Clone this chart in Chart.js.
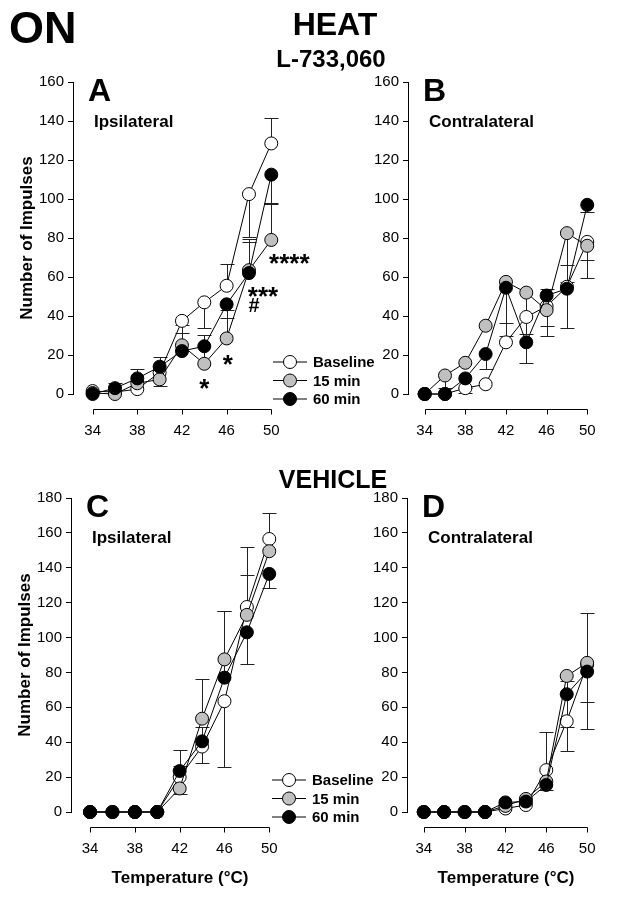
<!DOCTYPE html>
<html>
<head>
<meta charset="utf-8">
<title>ON – HEAT – L-733,060</title>
<script src="https://cdn.jsdelivr.net/npm/chart.js@4.4.1/dist/chart.umd.min.js"></script>
<style>
  body { margin: 0; background: #fff; }
  #page { position: relative; width: 624px; height: 897px; overflow: hidden; font-family: "Liberation Sans", Arial, sans-serif; }
  #page canvas { position: absolute; left: 0; top: 0; }
  .head { position: absolute; font-weight: bold; line-height: 1; white-space: nowrap; color: #000; }
  .center { transform: translateX(-50%); }
</style>
</head>
<body>
<div id="page">
  <canvas id="chartA" width="624" height="897"></canvas>
  <canvas id="chartB" width="624" height="897"></canvas>
  <canvas id="chartC" width="624" height="897"></canvas>
  <canvas id="chartD" width="624" height="897"></canvas>
  <div class="head" style="left:9px;top:5px;font-size:45px">ON</div>
  <div class="head center" style="left:335px;top:8px;font-size:32px">HEAT</div>
  <div class="head center" style="left:331px;top:47px;font-size:24px">L-733,060</div>
  <div class="head center" style="left:333px;top:467px;font-size:25px">VEHICLE</div>
</div>

<script>
const FONT = "'Liberation Sans', Arial, sans-serif";

// temperatures (°C) and tick labels
const temps = [34, 36, 38, 40, 42, 44, 46, 48, 50];
const tempTicks = [34, 38, 42, 46, 50];
const seriesNames = ["Baseline", "15 min", "60 min"];
const seriesFill = ["#ffffff", "#c0c0c0", "#000000"];

// A - L-733,060, ipsilateral
const aBase = [1.5, 1, 2.5, 11, 37.5, 47, 55.5, 102.5, 128.5];
const a15 = [0.5, 0, 5.5, 7.5, 25, 15.5, 28.5, 63.5, 79];
const a60 = [0, 3, 8, 14, 22, 24.5, 46, 62, 112.5];
// error bars: + goes up, - goes down
const aBaseErr = [0, 0, 0, 0, -6, -13, 11, -22, 13];
const a15Err = [0, 0, 0, -3.5, 10.5, 15, 14.5, 16, 19];
const a60Err = [0, 2.5, 5, 5, 0, 0, -7, 16, -15];
const aNotes = [
  { text: "****", x: 49.8, y: 62.6 },
  { text: "***", x: 47.9, y: 45.6 },
  { text: "#", x: 47.95, y: 42 },
  { text: "*", x: 45.65, y: 10.9 },
  { text: "*", x: 43.55, y: -1.4 }
];

// B - L-733,060, contralateral
const bBase = [0, 0, 3, 5, 26.5, 39.5, 45, 55, 78];
const b15 = [0, 9.5, 16, 35, 57.5, 52, 43, 82.5, 76];
const b60 = [0, 0, 8, 20.5, 54.5, 26.5, 50.5, 54, 97];
const bBaseErr = [0, 0, -2.5, 0, 10, 0, -15.5, 11, -9.5];
const b15Err = [0, -6.5, 0, 0, 0, -21, -8, -25, -16.5];
const b60Err = [0, 0, -5, -7.5, -24.5, -10.5, 3.5, -20, -3.5];

// C - vehicle, ipsilateral
const cBase = [0, 0, 0, 0, 20, 37.5, 63.5, 117.5, 156.5];
const c15 = [0, 0, 0, 0, 13.5, 53.5, 87.5, 113, 149.5];
const c60 = [0, 0, 0, 0, 23.5, 40.5, 77, 103, 136.5];
const cBaseErr = [0, 0, 0, 0, 6.5, 11, -37.5, 34.5, 15];
const c15Err = [0, 0, 0, 0, -3, 23, 27.5, 23, 0];
const c60Err = [0, 0, 0, 0, 12, -12.5, 38, -18, -8];

// D - vehicle, contralateral
const dBase = [0, 0, 0, 0, 2, 4, 24, 52, 84.5];
const d15 = [0, 0, 0, 0, 3.5, 7.5, 17.5, 78, 85.5];
const d60 = [0, 0, 0, 0, 5.5, 6, 15.5, 67.5, 80.5];
const dBaseErr = [0, 0, 0, 0, 0, 0, 22, -17, -21.5];
const d15Err = [0, 0, 0, 0, 0, 0, 0, -29, 28.5];
const d60Err = [0, 0, 0, 0, 0, 0, -3, 7.5, -33];

const panels = [
  { id: "chartA", left: 73, right: 305, top: 82, bottom: 394, xMin: 32.24, xMax: 53.02, yMax: 160,
    letter: "A", side: "Ipsilateral", yTitle: true, xTitle: false, legend: { x: 273, y: 362 },
    series: [aBase, a15, a60], errors: [aBaseErr, a15Err, a60Err], notes: aNotes },
  { id: "chartB", left: 408, right: 618, top: 82, bottom: 394, xMin: 32.36, xMax: 51.02, yMax: 160,
    letter: "B", side: "Contralateral", yTitle: false, xTitle: false, legend: null,
    series: [bBase, b15, b60], errors: [bBaseErr, b15Err, b60Err], notes: [] },
  { id: "chartC", left: 71, right: 305, top: 498, bottom: 812, xMin: 32.3, xMax: 53.19, yMax: 180,
    letter: "C", side: "Ipsilateral", yTitle: true, xTitle: true, legend: { x: 272, y: 780 },
    series: [cBase, c15, c60], errors: [cBaseErr, c15Err, c60Err], notes: [] },
  { id: "chartD", left: 407, right: 618, top: 498, bottom: 812, xMin: 32.36, xMax: 51.32, yMax: 180,
    letter: "D", side: "Contralateral", yTitle: false, xTitle: true, legend: null,
    series: [dBase, d15, d60], errors: [dBaseErr, d15Err, d60Err], notes: [] }
];

const Y_W = 60;
const X_H = 60;

// error bars, offset x axis, panel labels, legend and significance marks
const panelDecor = {
  id: "panelDecor",
  beforeDatasetsDraw(chart, args, p) {
    const ctx = chart.ctx;
    const xs = chart.scales.x, ys = chart.scales.y;
    ctx.save();
    ctx.strokeStyle = "#222";
    ctx.lineWidth = 1;
    chart.data.datasets.forEach((ds) => {
      ds.data.forEach((pt, i) => {
        const e = ds.errors[i];
        if (!e) return;
        const x = Math.round(xs.getPixelForValue(pt.x)) + 0.5;
        const y1 = ys.getPixelForValue(pt.y);
        const y2 = Math.round(ys.getPixelForValue(pt.y + e)) + 0.5;
        ctx.beginPath();
        ctx.moveTo(x, y1);
        ctx.lineTo(x, y2);
        ctx.moveTo(x - 7, y2);
        ctx.lineTo(x + 7, y2);
        ctx.stroke();
      });
    });
    ctx.restore();
  },
  afterDraw(chart, args, p) {
    const ctx = chart.ctx;
    const area = chart.chartArea;
    const xs = chart.scales.x, ys = chart.scales.y;
    ctx.save();
    ctx.strokeStyle = "#000";
    ctx.fillStyle = "#000";
    ctx.lineWidth = 1;

    // x axis sits below the plot, from 34 to 50 only
    const axY = Math.round(area.bottom + 15) + 0.5;
    const x0 = Math.round(xs.getPixelForValue(tempTicks[0])) + 0.5;
    const x1 = Math.round(xs.getPixelForValue(tempTicks[tempTicks.length - 1])) + 0.5;
    ctx.beginPath();
    ctx.moveTo(x0, axY);
    ctx.lineTo(x1, axY);
    tempTicks.forEach((t) => {
      const tx = Math.round(xs.getPixelForValue(t)) + 0.5;
      ctx.moveTo(tx, axY);
      ctx.lineTo(tx, axY + 5);
    });
    ctx.stroke();

    if (p.xTitle) {
      ctx.font = "bold 17px " + FONT;
      ctx.textAlign = "center";
      ctx.textBaseline = "middle";
      ctx.fillText("Temperature (°C)", (x0 + x1) / 2, area.bottom + 66);
    }

    // panel letter and side
    ctx.textAlign = "left";
    ctx.textBaseline = "alphabetic";
    ctx.font = "bold 32px " + FONT;
    ctx.fillText(p.letter, area.left + 15, area.top + 19);
    ctx.font = "bold 17px " + FONT;
    ctx.fillText(p.side, area.left + 21, area.top + 45);

    // legend
    if (p.legend) {
      chart.data.datasets.forEach((ds, i) => {
        const ly = p.legend.y + i * 18.5;
        ctx.beginPath();
        ctx.moveTo(p.legend.x, ly);
        ctx.lineTo(p.legend.x + 34, ly);
        ctx.stroke();
        ctx.beginPath();
        ctx.arc(p.legend.x + 17, ly, 6.5, 0, Math.PI * 2);
        ctx.fillStyle = ds.pointBackgroundColor;
        ctx.fill();
        ctx.stroke();
        ctx.fillStyle = "#000";
        ctx.font = "bold 15px " + FONT;
        ctx.textBaseline = "middle";
        ctx.fillText(ds.label, p.legend.x + 40, ly + 1);
      });
    }

    // significance marks
    ctx.textBaseline = "alphabetic";
    ctx.textAlign = "left";
    p.notes.forEach((n) => {
      ctx.font = (n.text === "#" ? "bold 20px " : "bold 26px ") + FONT;
      ctx.fillText(n.text, xs.getPixelForValue(n.x), ys.getPixelForValue(n.y));
    });
    ctx.restore();
  }
};

Chart.defaults.font.family = FONT;
Chart.defaults.color = "#000";

function makePanel(p) {
  const datasets = p.series.map((vals, i) => ({
    label: seriesNames[i],
    data: temps.map((t, j) => ({ x: t, y: vals[j] })),
    errors: p.errors[i],
    borderColor: "#000",
    borderWidth: 1,
    backgroundColor: seriesFill[i],
    pointBackgroundColor: seriesFill[i],
    pointBorderColor: "#000",
    pointBorderWidth: 1,
    pointRadius: 6.5,
    tension: 0,
    clip: false,
    order: 3 - i
  }));

  return new Chart(document.getElementById(p.id), {
    type: "line",
    data: { datasets: datasets },
    options: {
      responsive: false,
      animation: false,
      events: [],
      layout: {
        padding: {
          left: p.left - Y_W,
          right: 624 - p.right,
          top: p.top,
          bottom: 897 - p.bottom - X_H
        }
      },
      scales: {
        x: {
          type: "linear",
          min: p.xMin,
          max: p.xMax,
          afterBuildTicks: (s) => { s.ticks = tempTicks.map((v) => ({ value: v })); },
          afterFit: (s) => { s.height = X_H; },
          grid: { display: false, drawTicks: false },
          border: { display: false },
          ticks: { padding: 28, autoSkip: false, maxRotation: 0, font: { size: 15 } }
        },
        y: {
          min: 0,
          max: p.yMax,
          afterFit: (s) => { s.width = Y_W; },
          grid: { display: true, drawOnChartArea: false, drawTicks: true, tickLength: 5, color: "#000" },
          border: { display: true, color: "#000", width: 1 },
          ticks: { stepSize: 20, padding: 4, font: { size: 15 } },
          title: {
            display: p.yTitle,
            text: "Number of Impulses",
            font: { size: 17, weight: "bold" },
            padding: { top: 4, bottom: 0 }
          }
        }
      },
      plugins: {
        legend: { display: false },
        tooltip: { enabled: false },
        panelDecor: p
      }
    },
    plugins: [panelDecor]
  });
}

panels.forEach(makePanel);
</script>
</body>
</html>
